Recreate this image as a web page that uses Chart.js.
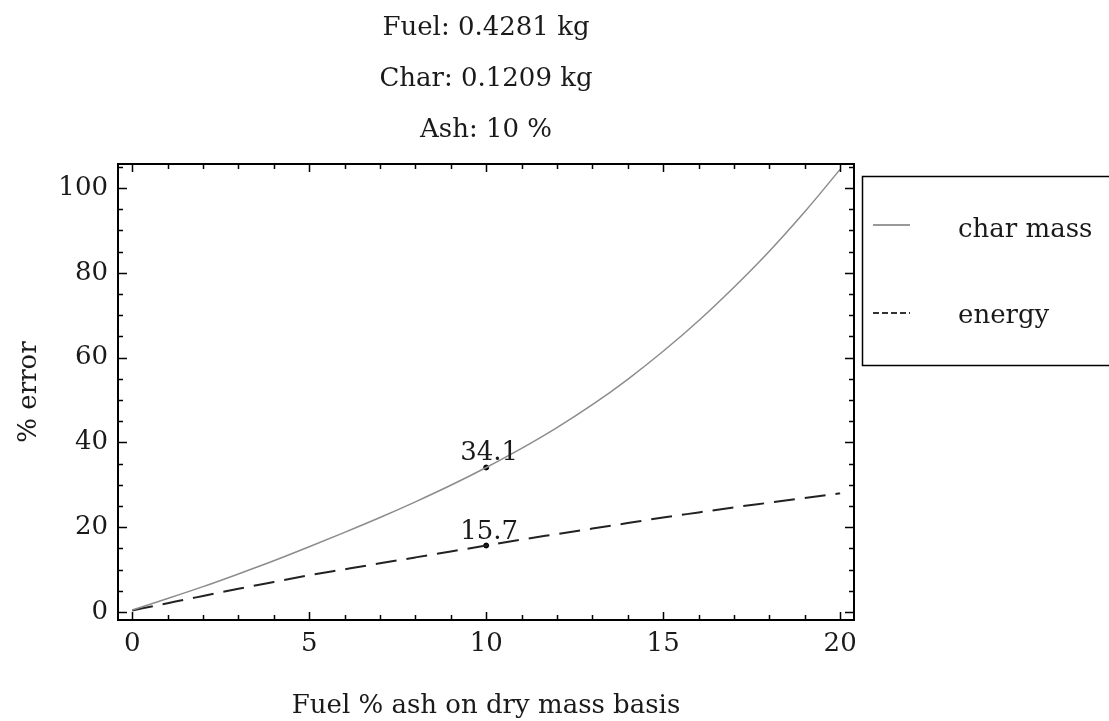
<!DOCTYPE html>
<html>
<head>
<meta charset="utf-8">
<script src="https://cdn.jsdelivr.net/npm/chart.js@4.4.1/dist/chart.umd.min.js"></script>
<style>
  html, body { margin: 0; padding: 0; background: #fff; }
  #wrap { width: 1109px; height: 721px; }
</style>
</head>
<body>
<div id="wrap"><canvas id="chart" width="1109" height="721"></canvas></div>
<script>
// data
const ashPct = [0, 1, 2, 3, 4, 5, 6, 7, 8, 9, 10, 11, 12, 13, 14, 15, 16, 17, 18, 19, 20];
const charMassErr = [0.5, 3.2, 6.0, 9.0, 12.1, 15.4, 18.8, 22.3, 26.0, 29.9, 34.1, 38.6, 43.5, 48.9, 54.9, 61.5, 68.7, 76.6, 85.1, 94.4, 104.4];
const energyErr = [0.4, 2.1, 3.8, 5.5, 7.1, 8.7, 10.1, 11.5, 12.9, 14.3, 15.7, 17.1, 18.4, 19.7, 21.0, 22.3, 23.5, 24.7, 25.8, 26.9, 28.0];
const markX = [10, 10];
const markY = [34.1, 15.7];
const markLabels = ['34.1', '15.7'];
const titleLines = ['Fuel: 0.4281 kg', 'Char: 0.1209 kg', 'Ash: 10 %'];
const seriesNames = ['char mass', 'energy'];
const xTicks = [0, 5, 10, 15, 20];
const yTicks = [0, 20, 40, 60, 80, 100];
const xTitle = 'Fuel % ash on dry mass basis';
const yTitle = '% error';

const FONT = "'DejaVu Serif', serif";
const TXT = '#1a1a1a';

const decorPlugin = {
    id: 'decor',
    afterDraw(chart) {
        const ctx = chart.ctx;
        const a = chart.chartArea;
        const xs = chart.scales.x;
        const ys = chart.scales.y;
        ctx.save();

        // frame
        ctx.strokeStyle = '#000';
        ctx.lineWidth = 2;
        ctx.strokeRect(a.left + 1, a.top + 1, a.right - a.left - 2, a.bottom - a.top - 2);

        // inward ticks on all four sides
        ctx.lineWidth = 1.5;
        ctx.beginPath();
        for (let v = 0; v <= 20; v++) {
            const len = v % 5 === 0 ? 9 : 6;
            const px = Math.round(xs.getPixelForValue(v)) + 0.5;
            ctx.moveTo(px, a.bottom); ctx.lineTo(px, a.bottom - len);
            ctx.moveTo(px, a.top); ctx.lineTo(px, a.top + len);
        }
        for (let v = 0; v <= 105; v += 5) {
            const len = v % 20 === 0 ? 10 : 6;
            const py = Math.round(ys.getPixelForValue(v)) + 0.5;
            ctx.moveTo(a.left, py); ctx.lineTo(a.left + len, py);
            ctx.moveTo(a.right, py); ctx.lineTo(a.right - len, py);
        }
        ctx.stroke();

        ctx.fillStyle = TXT;
        ctx.font = '26px ' + FONT;

        // point labels
        ctx.textAlign = 'center';
        ctx.textBaseline = 'alphabetic';
        markLabels.forEach((t, i) => {
            const px = xs.getPixelForValue(markX[i]);
            const py = ys.getPixelForValue(markY[i]);
            ctx.fillText(t, px + 3, py - 7);
        });

        // title lines
        const cx = (a.left + a.right) / 2;
        titleLines.forEach((t, i) => ctx.fillText(t, cx, 35 + i * 51));

        // axis titles
        ctx.fillText(xTitle, cx, 713);
        ctx.save();
        ctx.translate(36, 392);
        ctx.rotate(-Math.PI / 2);
        ctx.fillText(yTitle, 0, 0);
        ctx.restore();

        // legend
        ctx.strokeStyle = '#000';
        ctx.lineWidth = 1.5;
        ctx.strokeRect(862.5, 176.5, 300, 189);
        ctx.lineWidth = 2;
        ctx.strokeStyle = '#999';
        ctx.beginPath(); ctx.moveTo(873, 225); ctx.lineTo(910, 225); ctx.stroke();
        ctx.strokeStyle = '#333';
        ctx.setLineDash([6, 3]);
        ctx.beginPath(); ctx.moveTo(873, 313); ctx.lineTo(910, 313); ctx.stroke();
        ctx.setLineDash([]);
        ctx.textAlign = 'left';
        ctx.fillText(seriesNames[0], 958, 237);
        ctx.fillText(seriesNames[1], 958, 323);

        ctx.restore();
    }
};

new Chart(document.getElementById('chart'), {
    type: 'line',
    data: {
        datasets: [
            {
                label: seriesNames[0],
                data: ashPct.map((x, i) => ({ x, y: charMassErr[i] })),
                borderColor: '#8c8c8c',
                borderWidth: 1.5,
                pointRadius: 0,
                cubicInterpolationMode: 'monotone',
                fill: false
            },
            {
                label: seriesNames[1],
                data: ashPct.map((x, i) => ({ x, y: energyErr[i] })),
                borderColor: '#222',
                borderWidth: 2,
                borderDash: [21, 10],
                pointRadius: 0,
                cubicInterpolationMode: 'monotone',
                fill: false
            },
            {
                type: 'scatter',
                label: 'marks',
                data: markX.map((x, i) => ({ x, y: markY[i] })),
                backgroundColor: '#000',
                borderColor: '#000',
                pointRadius: 2.5
            }
        ]
    },
    options: {
        responsive: false,
        animation: false,
        events: [],
        layout: { padding: { left: 0, top: 163, right: 254, bottom: 0 } },
        plugins: { legend: { display: false }, title: { display: false }, tooltip: { enabled: false } },
        scales: {
            x: {
                type: 'linear',
                min: -0.43,
                max: 20.42,
                grid: { display: false, drawTicks: false },
                border: { display: false },
                afterBuildTicks: s => { s.ticks = xTicks.map(v => ({ value: v })); },
                afterFit: s => { s.height = 100; },
                ticks: { padding: 8, color: TXT, font: { family: FONT, size: 26 }, maxRotation: 0 }
            },
            y: {
                type: 'linear',
                min: -2.1,
                max: 105.9,
                grid: { display: false, drawTicks: false },
                border: { display: false },
                afterBuildTicks: s => { s.ticks = yTicks.map(v => ({ value: v })); },
                afterFit: s => { s.width = 117; },
                ticks: { padding: 9, color: TXT, font: { family: FONT, size: 26 } }
            }
        }
    },
    plugins: [decorPlugin]
});
</script>
</body>
</html>
